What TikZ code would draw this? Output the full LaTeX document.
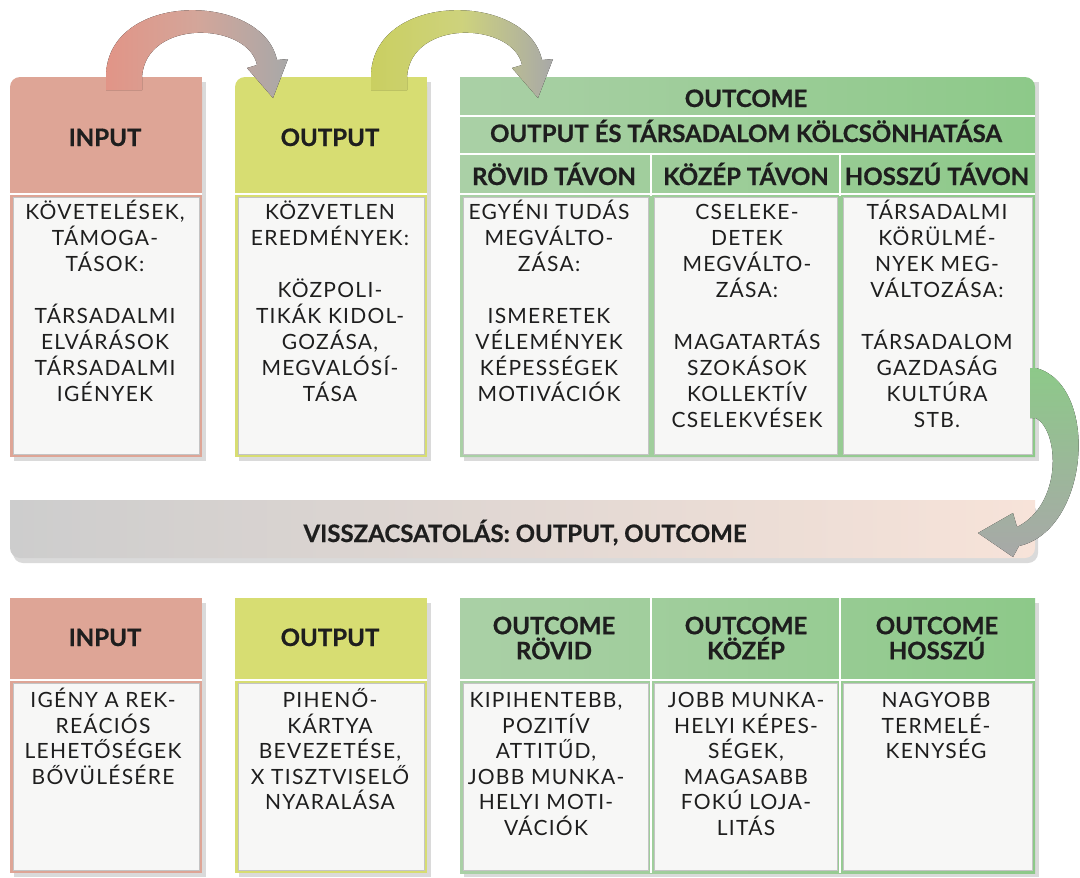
\documentclass[tikz,border=0pt]{standalone}
\usepackage{fontspec}
\setmainfont{Lato}
\newfontfamily\bodyf{Lato}[LetterSpace=6]
\definecolor{inc}{HTML}{DEA596}
\definecolor{outc}{HTML}{D7DD72}
\definecolor{ocl}{HTML}{AAD0A6}
\definecolor{ocr}{HTML}{8DC989}
\definecolor{panel}{HTML}{F7F7F6}
\definecolor{pframe}{HTML}{C4C4C4}
\definecolor{txt}{HTML}{1E1E1E}
\definecolor{arrgray}{HTML}{A8A8A8}
\definecolor{barl}{HTML}{CDCDCD}
\definecolor{barr}{HTML}{F7E3D9}
\definecolor{shad}{HTML}{DADADA}
\newcommand\firstl{\rule{0pt}{21pt}}
\newcommand\firsth{\rule{0pt}{22pt}}
\begin{document}
\begin{tikzpicture}[x=1pt,y=-1pt,
  hdr/.style={font=\fontsize{24}{25}\selectfont\bfseries\addfontfeature{FakeBold=0.6}, text=txt, inner sep=0pt, anchor=base},
  hdrtwo/.style={font=\fontsize{24}{25}\selectfont\bfseries\addfontfeature{FakeBold=0.6}, text=txt, inner sep=0pt, anchor=north, align=center},
  body/.style={font=\bodyf\fontsize{21}{26}\selectfont, text=txt, inner sep=0pt, anchor=north, align=center},
  bodyb/.style={font=\bodyf\fontsize{21}{25.5}\selectfont, text=txt, inner sep=0pt, anchor=north, align=center},
  pnl/.style={fill=panel, draw=pframe, line width=1pt},
  sep/.style={draw=white, line width=2pt},
  shadowbox/.style={fill=shad}
]
\useasboundingbox (0,0) rectangle (1080,878);
\fill[white] (0,0) rectangle (1080,878);

% ---------- top section: shadows ----------
\fill[shadowbox] (14,82) rectangle (206,461);
\fill[shadowbox] (239,82) rectangle (431,461);
\fill[shadowbox] (464,82) rectangle (1039,461);

% INPUT frame
\fill[inc, rounded corners=10pt] (10,77) rectangle (202,150);
\fill[inc] (110,77) rectangle (202,457);
\fill[inc] (10,120) rectangle (202,457);
% OUTPUT frame
\fill[outc, rounded corners=10pt] (235,77) rectangle (427,150);
\fill[outc] (335,77) rectangle (427,457);
\fill[outc] (235,120) rectangle (427,457);
% OUTCOME frame
\begin{scope}
  \clip (460,77) rectangle (900,457) (460,120) rectangle (1035,457)
        [rounded corners=10pt] (460,77) rectangle (1035,200);
  \shade[left color=ocl, right color=ocr] (460,77) rectangle (1035,457);
\end{scope}

% separators
\draw[sep] (10,194) -- (202,194);
\draw[sep] (235,194) -- (427,194);
\draw[sep] (460,116) -- (1035,116);
\draw[sep] (460,154) -- (1035,154);
\draw[sep] (460,194) -- (1035,194);
\draw[sep] (651,154) -- (651,196);
\draw[sep] (840,154) -- (840,196);

% panels
\filldraw[pnl] (13,197) rectangle (199,454);
\filldraw[pnl] (238,197) rectangle (424,454);
\filldraw[pnl] (463,197) rectangle (648,454);
\filldraw[pnl] (654,197) rectangle (837,454);
\filldraw[pnl] (843,197) rectangle (1032,454);

% top arrows
\fill[left color=inc!90!red, right color=arrgray, middle color=inc!80!arrgray]
  (106,90) -- (106,77) .. controls (106,-9) and (262,-9) .. (277,60)
  -- (288,59) -- (273,98) -- (247,68) -- (257,65)
  .. controls (248,22) and (146,18) .. (142,77) -- (142,90) -- cycle;
\fill[left color=outc!85!olive, right color=arrgray, middle color=outc!80!arrgray]
  (371,90) -- (371,77) .. controls (371,-9) and (527,-9) .. (542,60)
  -- (553,59) -- (538,98) -- (512,68) -- (522,65)
  .. controls (513,22) and (411,18) .. (407,77) -- (407,90) -- cycle;

% top headers
\node[hdr] (tin) at (105,146) {INPUT};
\node[hdr] (tout) at (330,146) {OUTPUT};
\node[hdr] (toc) at (746,107) {OUTCOME};
\node[hdr] (tinter) at (746,142) {OUTPUT ÉS TÁRSADALOM KÖLCSÖNHATÁSA};
\node[hdr] (tshort) at (554,185) {RÖVID TÁVON};
\node[hdr] (tmid) at (746,185) {KÖZÉP TÁVON};
\node[hdr] (tlong) at (937,185) {HOSSZÚ TÁVON};

% top bodies
\node[body] (bin) at (105,198.5) {\firstl KÖVETELÉSEK,\\TÁMOGA-\\TÁSOK:\\[26pt]TÁRSADALMI\\ELVÁRÁSOK\\TÁRSADALMI\\IGÉNYEK};
\node[body] (bout) at (330,198.5) {\firstl KÖZVETLEN\\EREDMÉNYEK:\\[26pt]KÖZPOLI-\\TIKÁK KIDOL-\\GOZÁSA,\\MEGVALÓSÍ-\\TÁSA};
\node[body] (bshort) at (549,198.5) {\firstl EGYÉNI TUDÁS\\MEGVÁLTO-\\ZÁSA:\\[26pt]ISMERETEK\\VÉLEMÉNYEK\\KÉPESSÉGEK\\MOTIVÁCIÓK};
\node[body] (bmid) at (747,198.5) {\firstl CSELEKE-\\DETEK\\MEGVÁLTO-\\ZÁSA:\\[26pt]MAGATARTÁS\\SZOKÁSOK\\KOLLEKTÍV\\CSELEKVÉSEK};
\node[body] (blong) at (937,198.5) {\firstl TÁRSADALMI\\KÖRÜLMÉ-\\NYEK MEG-\\VÁLTOZÁSA:\\[26pt]TÁRSADALOM\\GAZDASÁG\\KULTÚRA\\STB.};

% ---------- feedback bar ----------
\fill[shadowbox, rounded corners=10pt] (13,505) rectangle (1038,563);
\begin{scope}
  \clip (10,500) rectangle (1035,530) [rounded corners=10pt] (10,500) rectangle (1035,558);
  \shade[left color=barl, right color=barr] (10,500) rectangle (1035,558);
\end{scope}
\node[hdr] (fb) at (525,542) {VISSZACSATOLÁS: OUTPUT, OUTCOME};

% right arrow
\fill[top color=ocr, bottom color=arrgray]
  (1030,368) -- (1036,368) .. controls (1100,385) and (1090,530) .. (1019,546)
  -- (1013,557) -- (978,533) -- (1013,513) -- (1017,527)
  .. controls (1062,505) and (1060,432) .. (1036,418) -- (1030,418) -- cycle;

% ---------- bottom section ----------
\fill[shadowbox] (14,603) rectangle (206,877);
\fill[shadowbox] (239,603) rectangle (431,877);
\fill[shadowbox] (464,603) rectangle (1039,877);
\fill[inc] (10,598) rectangle (202,873);
\fill[outc] (235,598) rectangle (427,873);
\shade[left color=ocl, right color=ocr] (460,598) rectangle (1035,873);
\draw[sep] (10,680) -- (202,680);
\draw[sep] (235,680) -- (427,680);
\draw[sep] (460,680) -- (1035,680);
\draw[sep] (651,598) -- (651,873);
\draw[sep] (840,598) -- (840,873);

\filldraw[pnl] (13,683) rectangle (199,870);
\filldraw[pnl] (238,683) rectangle (424,870);
\filldraw[pnl] (463,683) rectangle (648,870);
\filldraw[pnl] (654,683) rectangle (837,870);
\filldraw[pnl] (843,683) rectangle (1032,870);

\node[hdr] (lin) at (105,646) {INPUT};
\node[hdr] (lout) at (330,646) {OUTPUT};
\node[hdrtwo] (lshort) at (554,612) {\firsth OUTCOME\\RÖVID};
\node[hdrtwo] (lmid) at (746,612) {\firsth OUTCOME\\KÖZÉP};
\node[hdrtwo] (llong) at (937,612) {\firsth OUTCOME\\HOSSZÚ};

\node[bodyb] (cin) at (103,686.5) {\firstl IGÉNY A REK-\\REÁCIÓS\\LEHETŐSÉGEK\\BŐVÜLÉSÉRE};
\node[bodyb] (cout) at (330,686.5) {\firstl PIHENŐ-\\KÁRTYA\\BEVEZETÉSE,\\X TISZTVISELŐ\\NYARALÁSA};
\node[bodyb] (cshort) at (546,686.5) {\firstl KIPIHENTEBB,\\POZITÍV\\ATTITŰD,\\JOBB MUNKA-\\HELYI MOTI-\\VÁCIÓK};
\node[bodyb] (cmid) at (746,686.5) {\firstl JOBB MUNKA-\\HELYI KÉPES-\\SÉGEK,\\MAGASABB\\FOKÚ LOJA-\\LITÁS};
\node[bodyb] (clong) at (936,686.5) {\firstl NAGYOBB\\TERMELÉ-\\KENYSÉG};
\end{tikzpicture}
\end{document}
